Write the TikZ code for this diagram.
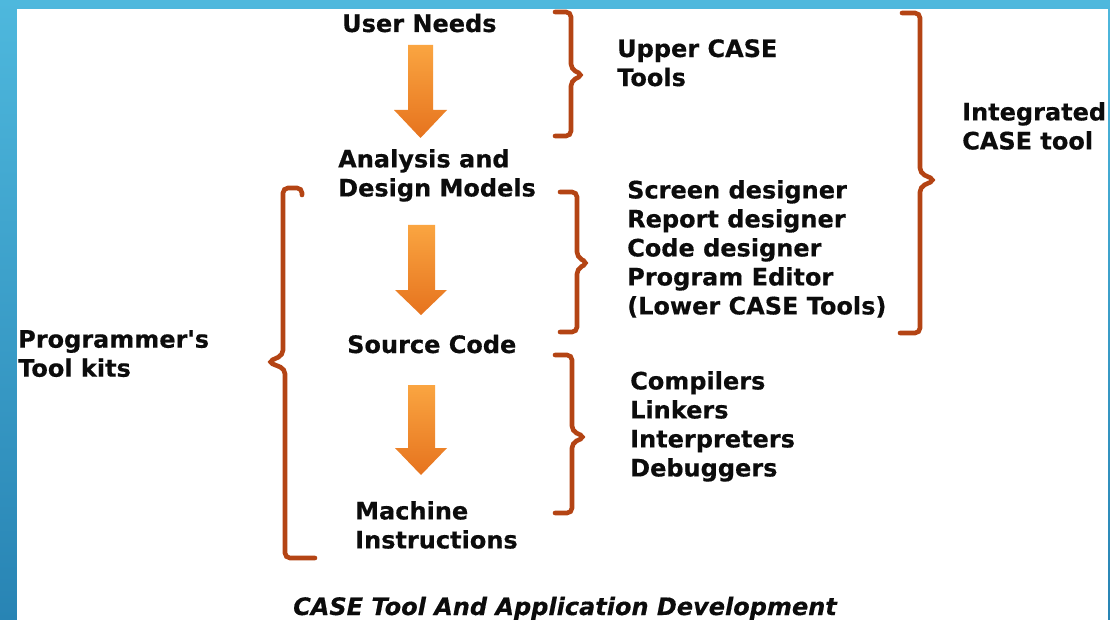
\documentclass[tikz,border=0pt]{standalone}
\usepackage{fontspec}
\setmainfont{DejaVu Sans}[Ligatures=TeXOff, BoldFeatures={FakeBold=0.4}, BoldItalicFeatures={FakeBold=0.4}]
\definecolor{bluetop}{RGB}{78,184,221}
\definecolor{bluebot}{RGB}{40,132,180}
\definecolor{bracec}{RGB}{180,68,20}
\definecolor{arrtop}{RGB}{250,165,65}
\definecolor{arrbot}{RGB}{230,115,30}
\definecolor{txt}{RGB}{12,12,12}
\begin{document}
\begin{tikzpicture}[x=1pt,y=-1pt,
  lbl/.style={inner sep=0pt, font=\bfseries\fontsize{24}{29}\selectfont, text=txt, align=left},
  bracestyle/.style={draw=bracec, line width=4.6pt, rounded corners=5pt, line cap=round},
  blockarrow/.style={top color=arrtop, bottom color=arrbot, draw=none}]
\useasboundingbox (0,0) rectangle (1110,620);
\shade[top color=bluetop,bottom color=bluebot] (0,0) rectangle (1110,620);
\fill[white] (17,9) rectangle (1108,620);
% text nodes
\node[lbl, anchor=base west] (user) at (342,32) {User Needs};
\node[lbl, anchor=north west] (adm) at (338,149) {Analysis and\\Design Models};
\node[lbl, anchor=base west] (src) at (347,353) {Source Code};
\node[lbl, anchor=north west] (mach) at (355,501) {Machine\\Instructions};
\node[lbl, anchor=north west] (upper) at (617,39) {Upper CASE\\Tools};
\node[lbl, anchor=north west] (lower) at (627,180) {Screen designer\\Report designer\\Code designer\\Program Editor\\(Lower CASE Tools)};
\node[lbl, anchor=north west] (progtools) at (630,371) {Compilers\\Linkers\\Interpreters\\Debuggers};
\node[lbl, anchor=north west] (icase) at (962,102) {Integrated\\CASE tool};
\node[lbl, anchor=north west] (ptk) at (18,330) {Programmer's\\Tool kits};
\node[inner sep=0pt, text=txt, font=\bfseries\itshape\fontsize{24}{29}\selectfont, anchor=base west] (caption) at (293,615) {CASE Tool And Application Development};
% block arrows
\shade[blockarrow] (408,45) -- (433,45) -- (433,110) -- (447,110) -- (420.5,138) -- (394,110) -- (408,110) -- cycle;
\shade[blockarrow] (408,225) -- (435,225) -- (435,290) -- (447,290) -- (421,315) -- (395,290) -- (408,290) -- cycle;
\shade[blockarrow] (408,385) -- (435,385) -- (435,448) -- (447,448) -- (421,475) -- (395,448) -- (408,448) -- cycle;
% braces
\draw[bracestyle] (555,12) -- (571,12) -- (571,69) -- (583,75) -- (571,81) -- (571,136) -- (555,136);
\draw[bracestyle] (560,192) -- (577,192) -- (577,257) -- (588,263) -- (577,269) -- (577,332) -- (560,332);
\draw[bracestyle] (555,355) -- (572,355) -- (572,431) -- (585,437) -- (572,443) -- (572,513) -- (555,513);
\draw[bracestyle] (902,13) -- (920,13) -- (920,173) -- (935,180) -- (920,187) -- (920,333) -- (900,333);
\draw[bracestyle] (302,195) -- (302,188) -- (283,188) -- (283,355) -- (268,362) -- (285,369) -- (285,558) -- (315,558);
\end{tikzpicture}
\end{document}
